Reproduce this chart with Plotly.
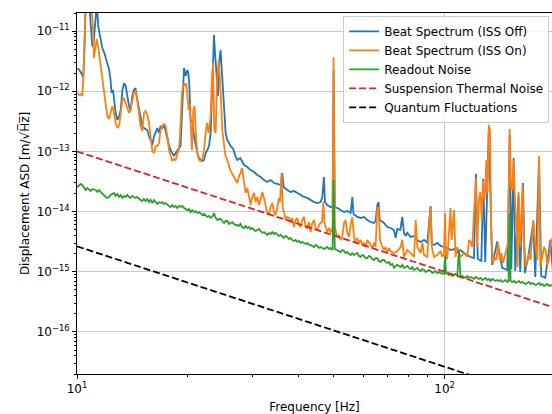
import plotly.graph_objects as go

# ---------------- data ----------------
off_freq = [
    10.02, 10.15, 10.27, 10.40, 10.47, 10.55, 10.67, 10.80, 10.90, 11.00,
    11.07, 11.14, 11.21, 11.32, 11.43, 11.57, 11.72, 11.87, 12.02, 12.09,
    12.24, 12.34, 12.42, 12.53, 12.61, 12.74, 12.88, 13.02, 13.15, 13.29,
    13.43, 13.57, 13.71, 13.85, 13.99, 14.14, 14.28, 14.43, 14.59, 14.74,
    14.89, 15.05, 15.21, 15.53, 15.70, 15.86, 16.03, 16.20, 16.37, 16.54,
    16.72, 16.88, 17.06, 17.24, 17.42, 17.61, 17.79, 17.98, 18.16, 18.35,
    18.55, 18.74, 18.93, 19.13, 19.34, 19.55, 19.75, 19.96, 20.08, 20.20,
    20.37, 20.59, 20.81, 21.02, 21.25, 21.47, 21.69, 21.92, 22.16, 22.39,
    22.62, 22.86, 23.10, 23.34, 23.49, 23.59, 23.74, 23.98, 24.19, 24.40,
    24.58, 24.80, 25.12, 25.37, 25.64, 26.17, 26.62, 26.96, 27.30, 27.81,
    28.47, 29.06, 29.67, 30.31, 30.94, 31.59, 32.26, 32.94, 33.63, 34.35,
    35.07, 35.80, 36.18, 36.48, 37.33, 38.12, 38.94, 39.74, 40.58, 41.45,
    42.30, 43.20, 44.13, 45.05, 45.99, 46.48, 46.97, 47.28, 47.95, 48.96,
    49.58, 49.90, 50.27, 51.06, 52.13, 53.25, 54.37, 55.51, 56.10, 56.52,
    57.88, 59.09, 60.36, 61.62, 62.91, 64.26, 64.91, 65.60, 66.15, 66.64,
    68.43, 69.85, 71.31, 72.85, 73.57, 74.36, 75.80, 76.71, 77.56, 78.32,
    79.17, 80.83, 82.57, 84.28, 86.04, 87.90, 89.74, 91.60, 92.31, 93.58,
    95.52, 97.52, 99.60, 101.7, 103.8, 106.1, 108.3, 110.5, 112.9, 115.3,
    117.7, 120.2, 121.7, 123.1, 125.9, 127.4, 129.0, 131.9, 134.8, 139.1,
    143.5, 148.1, 150.4, 151.9, 154.1, 155.7, 158.9, 160.6, 163.4, 165.3,
    168.9, 174.3, 176.5, 180.7, 183.2, 187.9, 193.9, 197.5,
]
off_asd = [
    2.43e-12, 2.25e-12, 2.01e-12, 1.66e-12, 3.99e-12, 2.6e-11, 3.0e-11, 2.8e-11, 1.26e-11, 5.85e-12,
    5.42e-12, 8.6e-12, 1.65e-11, 2.8e-11, 1.17e-11, 7.67e-12, 5.22e-12, 4.31e-12, 3.30e-12, 2.72e-12,
    2.25e-12, 1.53e-12, 9.37e-13, 1.05e-12, 7.15e-13, 4.35e-13, 3.33e-13, 3.88e-13, 4.88e-13, 1.05e-12,
    1.36e-12, 1.22e-12, 8.33e-13, 5.68e-13, 4.88e-13, 8.33e-13, 1.05e-12, 1.13e-12, 7.15e-13, 4.88e-13,
    3.33e-13, 2.65e-13, 2.45e-13, 2.27e-13, 1.80e-13, 1.49e-13, 1.28e-13, 1.80e-13, 2.18e-13, 2.45e-13,
    2.02e-13, 2.65e-13, 2.45e-13, 2.75e-13, 2.18e-13, 1.55e-13, 1.28e-13, 1.05e-13, 9.37e-14, 8.37e-14,
    9.37e-14, 1.05e-13, 1.14e-13, 1.23e-13, 4.35e-13, 2.43e-12, 1.79e-12, 2.25e-12, 2.01e-12, 1.36e-12,
    3.33e-13, 3.20e-13, 1.80e-13, 1.23e-13, 9.37e-14, 7.76e-14, 7.2e-14, 6.93e-14, 7.2e-14, 9.37e-14,
    1.05e-13, 1.23e-13, 2.02e-13, 1.53e-12, 5.63e-12, 8.6e-12, 4.31e-12, 1.53e-12, 8.33e-13, 3.30e-12,
    4.83e-12, 2.01e-12, 4.35e-13, 2.02e-13, 1.55e-13, 1.23e-13, 1.10e-13, 8.37e-14, 7.2e-14, 7.76e-14,
    5.94e-14, 5.5e-14, 4.9e-14, 4.54e-14, 4.06e-14, 3.76e-14, 3.35e-14, 3.10e-14, 3.35e-14, 2.99e-14,
    2.88e-14, 2.77e-14, 4.37e-14, 2.56e-14, 2.29e-14, 2.12e-14, 2.2e-14, 2.04e-14, 1.89e-14, 1.75e-14,
    1.69e-14, 1.56e-14, 1.44e-14, 1.39e-14, 1.44e-14, 1.75e-14, 3.76e-14, 1.44e-14, 1.29e-14, 1.19e-14,
    1.19e-14, 2.25e-12, 1.19e-14, 1.15e-14, 1.06e-14, 9.82e-15, 1.02e-14, 9.46e-15, 1.75e-14, 9.14e-15,
    8.15e-15, 7.85e-15, 8.15e-15, 7.25e-15, 6.71e-15, 6.47e-15, 6.98e-15, 1.29e-14, 1.44e-14, 7.25e-15,
    6.47e-15, 5.55e-15, 5.34e-15, 4.95e-15, 3.65e-15, 5.14e-15, 4.95e-15, 8.15e-15, 4.42e-15, 3.94e-15,
    4.42e-15, 3.79e-15, 3.94e-15, 3.38e-15, 3.13e-15, 3.38e-15, 3.02e-15, 1.24e-14, 2.9e-15, 2.79e-15,
    3.02e-15, 2.69e-15, 2.58e-15, 2.49e-15, 2.30e-15, 2.39e-15, 2.13e-15, 2.30e-15, 2.05e-15, 1.90e-15,
    1.76e-15, 1.69e-15, 4.2e-14, 1.63e-15, 1.51e-15, 3.48e-14, 1.45e-15, 2.27e-13, 1.30e-15, 3.2e-15,
    1.16e-15, 1.07e-15, 1.87e-13, 1.11e-15, 7.76e-14, 1.03e-15, 1.82e-14, 9.9e-16, 2.99e-14, 9.5e-16,
    1.76e-15, 6.71e-15, 8.2e-16, 7.2e-14, 8.5e-16, 7.9e-16, 3.38e-15, 8.85e-16,
]

on_freq = [
    10.02, 10.15, 10.27, 10.34, 10.40, 10.47, 10.55, 10.67, 10.80, 10.94,
    11.04, 11.12, 11.18, 11.23, 11.31, 11.41, 11.48, 11.59, 11.72, 11.84,
    11.97, 12.09, 12.22, 12.34, 12.48, 12.61, 12.74, 12.88, 13.02, 13.15,
    13.29, 13.43, 13.57, 13.71, 13.85, 13.99, 14.14, 14.28, 14.43, 14.59,
    14.74, 14.89, 15.05, 15.21, 15.37, 15.53, 15.70, 15.86, 16.03, 16.20,
    16.37, 16.54, 16.72, 16.88, 17.06, 17.24, 17.42, 17.61, 17.79, 17.98,
    18.16, 18.35, 18.55, 18.74, 18.91, 19.04, 19.30, 19.50, 19.71, 19.83,
    19.96, 20.12, 20.25, 20.37, 20.55, 20.72, 20.88, 21.07, 21.25, 21.47,
    21.69, 21.92, 22.16, 22.33, 22.57, 22.81, 23.10, 23.30, 23.45, 23.63,
    23.84, 24.04, 24.29, 24.50, 24.85, 25.32, 25.64, 26.12, 26.62, 27.30,
    27.59, 27.84, 28.12, 28.47, 28.75, 29.06, 29.36, 29.67, 29.98, 30.31,
    30.62, 30.94, 31.27, 31.59, 31.93, 32.26, 32.59, 32.94, 33.29, 33.63,
    33.98, 34.35, 34.69, 35.07, 35.44, 35.66, 36.02, 36.25, 36.57, 36.93,
    37.33, 37.72, 38.12, 38.52, 38.94, 39.34, 39.74, 40.17, 40.58, 41.02,
    41.45, 41.87, 42.30, 42.75, 43.20, 43.66, 44.13, 44.59, 45.05, 45.53,
    45.99, 46.40, 46.77, 47.15, 47.95, 48.47, 48.96, 49.58, 49.89, 50.27,
    51.06, 51.60, 52.13, 52.68, 53.25, 53.80, 54.37, 54.96, 55.51, 56.10,
    56.70, 57.27, 57.88, 58.50, 59.09, 59.72, 60.36, 60.97, 61.62, 62.27,
    62.91, 63.58, 64.26, 64.91, 65.60, 66.15, 66.73, 67.73, 68.43, 69.13,
    69.85, 70.59, 71.31, 72.85, 74.36, 75.92, 76.71, 77.56, 79.17, 80.83,
    82.57, 83.45, 84.28, 86.04, 87.00, 87.90, 89.74, 90.70, 91.60, 92.31,
    93.58, 95.52, 97.52, 98.50, 99.60, 100.3, 100.9, 101.7, 102.7, 103.8,
    104.5, 106.1, 107.1, 108.3, 110.5, 112.9, 115.3, 116.5, 117.7, 118.9,
    120.2, 121.7, 122.7, 124.0, 125.1, 126.3, 127.1, 128.5, 129.9, 130.9,
    131.9, 132.9, 134.0, 135.5, 136.8, 138.3, 139.8, 141.2, 142.7, 144.2,
    145.6, 147.2, 148.8, 150.3, 151.6, 152.9, 154.1, 155.4, 157.0, 158.0,
    158.9, 160.6, 162.0, 163.0, 164.4, 166.1, 167.9, 169.7, 171.4, 173.2,
    174.3, 175.7, 178.8, 180.7, 182.1, 184.4, 186.4, 188.3, 190.3, 192.3,
    194.3, 196.3, 198.5,
]
on_asd = [
    9.37e-13, 8.65e-13, 8.99e-13, 8.33e-13, 1.53e-12, 7.1e-12, 2.5e-11, 3.5e-11, 3.2e-11, 2.6e-11,
    1.26e-11, 3.56e-12, 4.83e-12, 5.85e-12, 7.38e-12, 5.63e-12, 4.31e-12, 2.94e-12, 1.79e-12, 1.05e-12,
    6.38e-13, 3.88e-13, 3.46e-13, 4.35e-13, 5.68e-13, 4.35e-13, 2.97e-13, 2.45e-13, 2.65e-13, 4.35e-13,
    7.15e-13, 7.72e-13, 6.38e-13, 4.88e-13, 4.35e-13, 4.88e-13, 7.15e-13, 9.37e-13, 1.01e-12, 7.15e-13,
    4.35e-13, 2.65e-13, 2.18e-13, 4.35e-13, 4.7e-13, 4.03e-13, 2.97e-13, 1.55e-13, 1.01e-13, 9.37e-14,
    1.23e-13, 1.23e-13, 1.38e-13, 2.27e-13, 2.65e-13, 2.86e-13, 2.65e-13, 1.80e-13, 1.05e-13, 8.37e-14,
    6.93e-14, 7.48e-14, 7.2e-14, 9.04e-14, 1.05e-13, 1.55e-13, 9.37e-13, 1.36e-12, 1.22e-12, 1.36e-12,
    7.15e-13, 4.88e-13, 6.38e-13, 3.33e-13, 1.05e-13, 4.88e-13, 5.68e-13, 1.80e-13, 9.37e-14, 7.2e-14,
    6.93e-14, 7.48e-14, 1.05e-13, 1.80e-13, 2.97e-13, 2.02e-13, 3.88e-13, 1.79e-12, 2.94e-12, 2.27e-13,
    2.02e-13, 1.53e-12, 3.30e-12, 1.53e-12, 2.27e-13, 8.7e-14, 7.2e-14, 4.9e-14, 4.06e-14, 2.99e-14,
    3.91e-14, 4.37e-14, 5.3e-14, 2.99e-14, 2.04e-14, 2.47e-14, 1.69e-14, 1.29e-14, 1.75e-14, 2.04e-14,
    1.44e-14, 1.75e-14, 1.29e-14, 1.69e-14, 2.12e-14, 1.69e-14, 1.19e-14, 9.46e-15, 8.8e-15, 1.19e-14,
    1.39e-14, 9.82e-15, 8.8e-15, 1.15e-14, 1.69e-14, 1.44e-14, 4.37e-14, 1.19e-14, 9.82e-15, 7.25e-15,
    8.15e-15, 7.85e-15, 6.71e-15, 7.85e-15, 5.55e-15, 7.25e-15, 7.85e-15, 5.99e-15, 5.55e-15, 7.25e-15,
    8.15e-15, 5.55e-15, 5.34e-15, 6.71e-15, 4.58e-15, 6.47e-15, 7.25e-15, 5.34e-15, 4.95e-15, 5.99e-15,
    6.47e-15, 6.71e-15, 1.44e-14, 6.47e-15, 4.58e-15, 5.34e-15, 4.42e-15, 5.55e-15, 3.69e-12, 5.55e-15,
    3.79e-15, 4.09e-15, 3.38e-15, 3.79e-15, 6.47e-15, 7.25e-15, 4.42e-15, 3.79e-15, 5.99e-15, 8.15e-15,
    3.79e-15, 3.13e-15, 3.65e-15, 3.02e-15, 3.38e-15, 2.79e-15, 3.02e-15, 2.58e-15, 3.38e-15, 3.13e-15,
    2.79e-15, 2.49e-15, 3.02e-15, 2.58e-15, 1.15e-14, 1.19e-14, 3.38e-15, 2.58e-15, 2.30e-15, 2.58e-15,
    2.05e-15, 2.49e-15, 2.21e-15, 2.05e-15, 2.21e-15, 2.58e-15, 3.38e-15, 1.76e-15, 2.30e-15, 2.05e-15,
    1.76e-15, 7.25e-15, 2.58e-15, 2.05e-15, 3.02e-15, 1.90e-15, 1.76e-15, 4.95e-15, 1.19e-14, 2.58e-15,
    1.76e-15, 1.90e-15, 2.21e-15, 1.76e-15, 2.05e-15, 9.46e-15, 1.69e-15, 1.63e-15, 4.09e-15, 1.15e-14,
    3.38e-15, 1.06e-14, 1.76e-15, 2.58e-15, 1.76e-15, 2.05e-15, 1.76e-15, 3.38e-15, 3.13e-15, 2.58e-15,
    9.46e-15, 3.62e-14, 2.58e-15, 1.56e-14, 2.12e-14, 7.25e-15, 3.22e-14, 1.56e-14, 7.2e-14, 2.04e-14,
    2.75e-13, 2.18e-13, 3.38e-15, 1.40e-15, 1.76e-15, 1.57e-15, 3.02e-15, 1.57e-15, 2.05e-15, 1.40e-15,
    1.76e-15, 2.21e-15, 3.02e-15, 2.36e-13, 2.56e-14, 2.29e-14, 7.2e-14, 1.56e-14, 4.95e-15, 1.2e-15,
    2.12e-14, 2.58e-15, 1.39e-14, 2.77e-14, 3.38e-15, 1.2e-15, 1.57e-15, 2.05e-15, 1.57e-15, 3.38e-15,
    7.25e-15, 3.65e-15, 1.57e-15, 8.37e-14, 1.2e-15, 1.76e-15, 2.58e-15, 2.30e-15, 1.30e-15, 1.57e-15,
    3.02e-15, 3.65e-15, 1.9e-15,
]

readout_freq = [
    10.02, 10.13, 10.23, 10.34, 10.45, 10.55, 10.67, 10.78, 10.89, 11.00,
    11.12, 11.23, 11.36, 11.48, 11.59, 11.72, 11.84, 11.97, 12.09, 12.22,
    12.34, 12.48, 12.61, 12.74, 12.88, 13.02, 13.15, 13.29, 13.43, 13.57,
    13.71, 13.85, 13.99, 14.14, 14.28, 14.43, 14.59, 14.74, 14.89, 15.05,
    15.21, 15.37, 15.53, 15.70, 15.86, 16.03, 16.20, 16.37, 16.54, 16.72,
    16.88, 17.06, 17.24, 17.42, 17.61, 17.79, 17.98, 18.16, 18.35, 18.55,
    18.74, 18.93, 19.13, 19.34, 19.55, 19.75, 19.96, 20.17, 20.37, 20.59,
    20.81, 21.02, 21.25, 21.47, 21.69, 21.92, 22.16, 22.39, 22.62, 22.86,
    23.10, 23.34, 23.59, 23.84, 24.08, 24.34, 24.58, 24.85, 25.12, 25.37,
    25.64, 25.91, 26.17, 26.45, 26.73, 27.02, 27.30, 27.59, 27.84, 28.12,
    28.47, 28.75, 29.06, 29.36, 29.67, 29.98, 30.31, 30.62, 30.94, 31.27,
    31.59, 31.93, 32.26, 32.59, 32.94, 33.29, 33.63, 33.98, 34.35, 34.69,
    35.07, 35.44, 35.80, 36.18, 36.57, 36.93, 37.33, 37.72, 38.12, 38.52,
    38.94, 39.34, 39.74, 40.17, 40.58, 41.02, 41.45, 41.87, 42.30, 42.75,
    43.20, 43.66, 44.13, 44.59, 45.05, 45.53, 45.99, 46.48, 46.97, 47.46,
    47.95, 48.47, 48.96, 49.58, 49.89, 50.27, 51.06, 51.60, 52.13, 52.68,
    53.25, 53.80, 54.37, 54.96, 55.51, 56.10, 56.70, 57.27, 57.88, 58.50,
    59.09, 59.72, 60.36, 60.97, 61.62, 62.27, 62.91, 63.58, 64.26, 64.91,
    65.60, 66.32, 66.98, 67.73, 68.43, 69.13, 69.85, 70.59, 71.31, 72.06,
    72.85, 73.57, 74.36, 75.16, 75.92, 76.71, 77.56, 78.32, 79.17, 80.00,
    80.83, 81.70, 82.57, 83.45, 84.28, 85.20, 86.04, 87.00, 87.90, 88.80,
    89.74, 90.70, 91.60, 92.60, 93.58, 94.50, 95.52, 96.56, 97.52, 98.58,
    99.60, 100.3, 100.9, 101.7, 102.8, 103.8, 104.95, 106.1, 107.1, 108.3,
    109.4, 110.5, 111.7, 112.9, 114.1, 115.3, 116.5, 117.7, 118.9, 120.2,
    121.4, 122.7, 124.0, 125.3, 126.7, 128.0, 129.3, 130.7, 132.1, 133.4,
    134.8, 136.3, 137.6, 139.1, 140.6, 142.0, 143.5, 145.1, 146.6, 148.1,
    149.3, 150.3, 151.2, 152.9, 154.5, 156.1, 157.7, 159.4, 160.9, 162.7,
    164.4, 166.1, 167.9, 169.7, 171.4, 173.2, 175.1, 176.9, 178.8, 180.7,
    182.5, 184.4, 186.4, 188.3, 190.3, 192.3, 194.3, 196.3, 198.5,
]
readout_asd = [
    2.56e-14, 2.77e-14, 2.88e-14, 2.77e-14, 2.56e-14, 2.29e-14, 2.47e-14, 2.29e-14, 2.2e-14, 2.38e-14,
    2.33e-14, 2.29e-14, 2.12e-14, 2.29e-14, 2.12e-14, 1.96e-14, 1.89e-14, 1.75e-14, 1.69e-14, 1.75e-14,
    1.89e-14, 1.96e-14, 2.04e-14, 1.82e-14, 1.96e-14, 1.75e-14, 1.89e-14, 1.69e-14, 1.82e-14, 1.75e-14,
    1.89e-14, 1.75e-14, 1.69e-14, 1.82e-14, 1.75e-14, 1.69e-14, 1.75e-14, 1.62e-14, 1.56e-14, 1.50e-14,
    1.62e-14, 1.50e-14, 1.62e-14, 1.44e-14, 1.56e-14, 1.39e-14, 1.56e-14, 1.44e-14, 1.34e-14, 1.44e-14,
    1.39e-14, 1.44e-14, 1.34e-14, 1.39e-14, 1.29e-14, 1.24e-14, 1.19e-14, 1.29e-14, 1.19e-14, 1.24e-14,
    1.15e-14, 1.24e-14, 1.19e-14, 1.24e-14, 1.15e-14, 1.10e-14, 1.06e-14, 1.10e-14, 9.82e-15, 1.06e-14,
    9.82e-15, 1.02e-14, 9.46e-15, 9.82e-15, 9.14e-15, 8.8e-15, 9.14e-15, 8.47e-15, 8.15e-15, 8.47e-15,
    7.85e-15, 8.15e-15, 9.46e-15, 7.85e-15, 7.25e-15, 7.53e-15, 7.53e-15, 6.98e-15, 6.47e-15, 6.98e-15,
    6.98e-15, 6.23e-15, 6.47e-15, 6.71e-15, 6.23e-15, 5.99e-15, 5.99e-15, 5.77e-15, 6.23e-15, 5.55e-15,
    5.34e-15, 5.77e-15, 5.34e-15, 5.55e-15, 5.14e-15, 5.34e-15, 4.95e-15, 4.76e-15, 4.95e-15, 5.14e-15,
    4.76e-15, 4.42e-15, 4.58e-15, 4.25e-15, 4.09e-15, 4.42e-15, 4.25e-15, 4.58e-15, 4.25e-15, 4.42e-15,
    4.09e-15, 3.94e-15, 4.09e-15, 3.79e-15, 3.65e-15, 3.94e-15, 3.79e-15, 3.51e-15, 3.65e-15, 3.38e-15,
    3.25e-15, 3.38e-15, 3.13e-15, 3.25e-15, 3.02e-15, 3.13e-15, 3.02e-15, 2.9e-15, 3.02e-15, 2.79e-15,
    2.79e-15, 2.69e-15, 2.58e-15, 2.79e-15, 2.69e-15, 2.49e-15, 2.58e-15, 2.49e-15, 2.39e-15, 2.49e-15,
    2.58e-15, 2.39e-15, 2.49e-15, 2.30e-15, 3.35e-14, 2.39e-15, 2.30e-15, 2.21e-15, 2.13e-15, 2.30e-15,
    2.21e-15, 2.05e-15, 2.13e-15, 1.97e-15, 1.90e-15, 2.05e-15, 1.90e-15, 1.97e-15, 2.05e-15, 1.83e-15,
    1.76e-15, 1.90e-15, 1.83e-15, 1.69e-15, 1.69e-15, 1.83e-15, 1.76e-15, 1.63e-15, 1.57e-15, 1.69e-15,
    1.69e-15, 1.51e-15, 1.45e-15, 1.57e-15, 1.57e-15, 1.45e-15, 1.40e-15, 1.45e-15, 1.30e-15, 1.35e-15,
    1.16e-15, 1.25e-15, 1.30e-15, 1.25e-15, 1.20e-15, 1.30e-15, 1.16e-15, 1.20e-15, 1.25e-15, 1.16e-15,
    1.11e-15, 1.20e-15, 1.07e-15, 1.11e-15, 1.16e-15, 1.07e-15, 1.03e-15, 1.11e-15, 1.07e-15, 9.9e-16,
    1.03e-15, 1.07e-15, 1.03e-15, 9.5e-16, 9.9e-16, 1.03e-15, 9.5e-16, 9.9e-16, 9.5e-16, 9.2e-16,
    9.2e-16, 1.90e-15, 9.2e-16, 9.5e-16, 8.85e-16, 9.2e-16, 8.5e-16, 8.85e-16, 9.2e-16, 8.5e-16,
    2.30e-15, 8.2e-16, 8.5e-16, 8.2e-16, 7.9e-16, 8.5e-16, 7.9e-16, 8.2e-16, 7.9e-16, 7.6e-16,
    8.2e-16, 7.9e-16, 7.6e-16, 7.9e-16, 7.3e-16, 7.6e-16, 7.9e-16, 7.3e-16, 7.6e-16, 7.03e-16,
    7.6e-16, 7.3e-16, 7.03e-16, 7.3e-16, 7.03e-16, 7.3e-16, 6.77e-16, 7.03e-16, 7.3e-16, 6.77e-16,
    7.03e-16, 9.46e-15, 7.03e-16, 6.77e-16, 7.03e-16, 6.52e-16, 6.77e-16, 7.03e-16, 6.52e-16, 6.77e-16,
    6.52e-16, 6.27e-16, 6.52e-16, 6.77e-16, 6.27e-16, 6.52e-16, 6.27e-16, 6.04e-16, 6.27e-16, 6.52e-16,
    6.04e-16, 6.27e-16, 5.81e-16, 6.04e-16, 6.27e-16, 5.81e-16, 6.04e-16, 5.81e-16, 6.04e-16,
]

thermal_freq = [10.0, 200.0]
thermal_asd = [1.0e-13, 2.5e-16]

quantum_freq = [10.0, 200.0]
quantum_asd = [2.65e-15, 6.6e-18]

assert len(off_freq) == len(off_asd), (len(off_freq), len(off_asd))
assert len(on_freq) == len(on_asd), (len(on_freq), len(on_asd))
assert len(readout_freq) == len(readout_asd), (len(readout_freq), len(readout_asd))

x_major = [10, 100]
x_major_text = ["10<sup>1</sup>", "10<sup>2</sup>"]
y_major = [1e-16, 1e-15, 1e-14, 1e-13, 1e-12, 1e-11]
y_major_text = ["10<sup>\u221216</sup>", "10<sup>\u221215</sup>", "10<sup>\u221214</sup>",
                "10<sup>\u221213</sup>", "10<sup>\u221212</sup>", "10<sup>\u221211</sup>"]

# ---------------- figure ----------------
FONT = "DejaVu Sans"
LW = 1.8
DASH = "7px,3px"

fig = go.Figure()
fig.add_trace(go.Scatter(x=off_freq, y=off_asd, mode="lines", name="Beat Spectrum (ISS Off)",
                         line=dict(color="#1f77b4", width=LW)))
fig.add_trace(go.Scatter(x=on_freq, y=on_asd, mode="lines", name="Beat Spectrum (ISS On)",
                         line=dict(color="#ff7f0e", width=LW)))
fig.add_trace(go.Scatter(x=readout_freq, y=readout_asd, mode="lines", name="Readout Noise",
                         line=dict(color="#2ca02c", width=LW)))
fig.add_trace(go.Scatter(x=thermal_freq, y=thermal_asd, mode="lines", name="Suspension Thermal Noise",
                         line=dict(color="#d62728", width=LW, dash=DASH)))
fig.add_trace(go.Scatter(x=quantum_freq, y=quantum_asd, mode="lines", name="Quantum Fluctuations",
                         line=dict(color="black", width=LW, dash=DASH)))

x_minor = [m * 10 for m in range(2, 10)] + [200]
y_minor = [m * 10.0 ** e for e in range(-17, -10) for m in range(2, 10)]

fig.update_layout(
    width=552, height=414,
    margin=dict(l=77, r=0, t=13, b=40, autoexpand=False),
    paper_bgcolor="white", plot_bgcolor="white",
    font=dict(family=FONT, size=12, color="black"),
    showlegend=True,
    legend=dict(
        x=0.994, xanchor="right", y=0.992, yanchor="top",
        bgcolor="rgba(255,255,255,0.8)", bordercolor="#cccccc", borderwidth=1,
        font=dict(family=FONT, size=12, color="black"),
        itemwidth=30, tracegroupgap=0,
    ),
    xaxis=dict(
        type="log", range=[1.0, 2.2922], automargin=False,
        tickmode="array", tickvals=x_major, ticktext=x_major_text,
        ticks="outside", ticklen=4, tickwidth=1, tickcolor="black",
        showline=True, linecolor="black", linewidth=1, mirror=True,
        showgrid=True, gridcolor="#c8c8c8", gridwidth=1,
        zeroline=False,
        minor=dict(tickmode="array", tickvals=x_minor, ticks="outside", ticklen=2,
                   tickwidth=0.8, tickcolor="black", showgrid=False),
        title=dict(text="Frequency [Hz]", font=dict(size=12)),
    ),
    yaxis=dict(
        type="log", range=[-16.699, -10.699], automargin=False,
        tickmode="array", tickvals=y_major, ticktext=y_major_text,
        ticks="outside", ticklen=4, tickwidth=1, tickcolor="black",
        showline=True, linecolor="black", linewidth=1, mirror=False,
        showgrid=True, gridcolor="#c8c8c8", gridwidth=1,
        zeroline=False,
        minor=dict(tickmode="array", tickvals=y_minor, ticks="outside", ticklen=2,
                   tickwidth=0.8, tickcolor="black", showgrid=False),
        title=dict(text="Displacement ASD [m/\u221aH\u0305z\u0305]", font=dict(size=12), standoff=4),
    ),
)

fig.write_html("out.html", config={"displayModeBar": False},
               post_script="document.body.style.margin='0px';")
